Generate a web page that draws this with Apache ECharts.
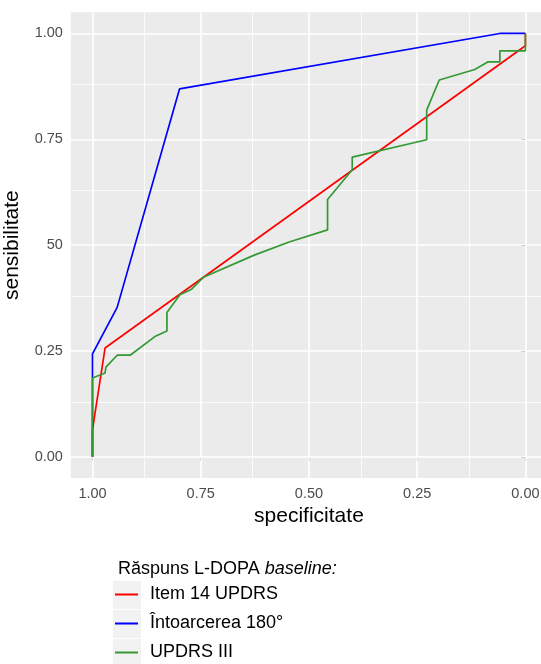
<!DOCTYPE html>
<html>
<head>
<meta charset="utf-8">
<script src="https://cdn.jsdelivr.net/npm/echarts@6/dist/echarts.min.js"></script>
<style>
  html, body { margin: 0; padding: 0; background: #fff; }
  #chart { width: 541px; height: 664px; }
</style>
</head>
<body>
<div id="chart"></div>
<script>
// ROC curves: specificity (reversed x) vs sensitivity
const seriesNames = ['Item 14 UPDRS', 'Întoarcerea 180°', 'UPDRS III'];
const seriesColors = ['#FF0000', '#0000FF', '#339933'];

const redSpec = [1, 1, 0.971, 0, 0];
const redSens = [0, 0.064, 0.257, 0.971, 1];

const blueSpec = [1, 1, 0.943, 0.799, 0.059, 0];
const blueSens = [0, 0.243, 0.353, 0.869, 1, 1];

const greenSpec = [1, 1, 0.971, 0.969, 0.943, 0.913, 0.856, 0.828, 0.828, 0.798, 0.771, 0.744, 0.625, 0.544,
  0.457, 0.457, 0.400, 0.400, 0.228, 0.228, 0.199, 0.117, 0.086, 0.059, 0.059, 0, 0];
const greenSens = [0, 0.186, 0.198, 0.212, 0.240, 0.240, 0.284, 0.297, 0.341, 0.383, 0.396, 0.424, 0.477, 0.508,
  0.536, 0.608, 0.678, 0.708, 0.749, 0.819, 0.890, 0.915, 0.933, 0.933, 0.959, 0.959, 1];

const majorBreaks = [0, 0.25, 0.5, 0.75, 1];
const minorBreaks = [0.125, 0.375, 0.625, 0.875];
const xTickLabels = ['0.00', '0.25', '0.50', '0.75', '1.00'];
const yTickLabels = ['0.00', '0.25', '50', '0.75', '1.00'];

const pairs = (xs, ys) => xs.map((x, i) => [x, ys[i]]);
const curves = [pairs(redSpec, redSens), pairs(blueSpec, blueSens), pairs(greenSpec, greenSens)];

const FONT = 'Liberation Sans, Arial, sans-serif';

// panel grid lines (ggplot style)
const gridLines = [];
majorBreaks.forEach(v => {
  gridLines.push({ xAxis: v, lineStyle: { width: 1.6 } });
  gridLines.push({ yAxis: v, lineStyle: { width: 1.6 } });
});
minorBreaks.forEach(v => {
  gridLines.push({ xAxis: v, lineStyle: { width: 0.8 } });
  gridLines.push({ yAxis: v, lineStyle: { width: 0.8 } });
});

const chart = echarts.init(document.getElementById('chart'));

const option = {
  animation: false,
  backgroundColor: '#fff',
  title: {
    left: 113,
    top: 555,
    text: '{a|Răspuns L-DOPA }{b|baseline:}',
    textStyle: {
      rich: {
        a: { fontFamily: FONT, fontSize: 18, color: '#000', fontWeight: 'normal' },
        b: { fontFamily: FONT, fontSize: 18, color: '#000', fontStyle: 'italic', fontWeight: 'normal' }
      }
    }
  },
  grid: {
    left: 70.85,
    top: 12.3,
    width: 476.2,
    height: 465.7,
    show: true,
    backgroundColor: '#EBEBEB',
    borderWidth: 0,
    outerBoundsMode: 'none'
  },
  legend: {
    orient: 'vertical',
    left: 115,
    top: 583,
    height: 81,
    padding: 0,
    itemGap: 6,
    itemWidth: 23,
    itemHeight: 2,
    icon: 'rect',
    data: seriesNames,
    textStyle: {
      fontFamily: FONT,
      fontSize: 18,
      color: '#000',
      lineHeight: 23,
      padding: [0, 0, 0, 7]
    },
    selectedMode: false
  },
  graphic: [0, 1, 2].map(i => ({
    type: 'rect',
    left: 113,
    top: 581 + i * 29,
    z: 0,
    shape: { width: 28, height: 28 },
    style: { fill: '#F2F2F2' }
  })),
  xAxis: {
    type: 'value',
    inverse: true,
    min: -0.05,
    max: 1.05,
    name: 'specificitate',
    nameLocation: 'middle',
    nameGap: 25,
    nameTextStyle: { fontFamily: FONT, fontSize: 21, color: '#000' },
    axisLine: { show: false },
    splitLine: { show: false },
    axisTick: { show: true, length: 4, customValues: majorBreaks, lineStyle: { color: '#333', width: 1 } },
    axisLabel: {
      customValues: majorBreaks,
      margin: 8,
      fontFamily: FONT,
      fontSize: 14.5,
      color: '#4D4D4D',
      formatter: v => xTickLabels[majorBreaks.indexOf(v)]
    }
  },
  yAxis: {
    type: 'value',
    min: -0.05,
    max: 1.05,
    name: 'sensibilitate',
    nameLocation: 'middle',
    nameGap: 48,
    nameTextStyle: { fontFamily: FONT, fontSize: 21, color: '#000' },
    axisLine: { show: false },
    splitLine: { show: false },
    axisTick: { show: true, length: 4, customValues: majorBreaks, lineStyle: { color: '#333', width: 1 } },
    axisLabel: {
      customValues: majorBreaks,
      margin: 8,
      fontFamily: FONT,
      fontSize: 14.5,
      color: '#4D4D4D',
      formatter: v => yTickLabels[majorBreaks.indexOf(v)]
    }
  },
  series: [
    {
      type: 'line',
      name: '__grid',
      data: [],
      z: 1,
      silent: true,
      markLine: {
        silent: true,
        symbol: ['none', 'none'],
        label: { show: false },
        emphasis: { disabled: true },
        animation: false,
        lineStyle: { color: '#FFFFFF', type: 'solid' },
        data: gridLines
      }
    }
  ].concat(curves.map((d, i) => ({
    type: 'line',
    name: seriesNames[i],
    data: d,
    z: 3,
    zlevel: 1,
    showSymbol: false,
    symbol: 'none',
    color: seriesColors[i],
    lineStyle: { color: seriesColors[i], width: 1.7 },
    emphasis: { disabled: true }
  })))
};

chart.setOption(option);
</script>
</body>
</html>
